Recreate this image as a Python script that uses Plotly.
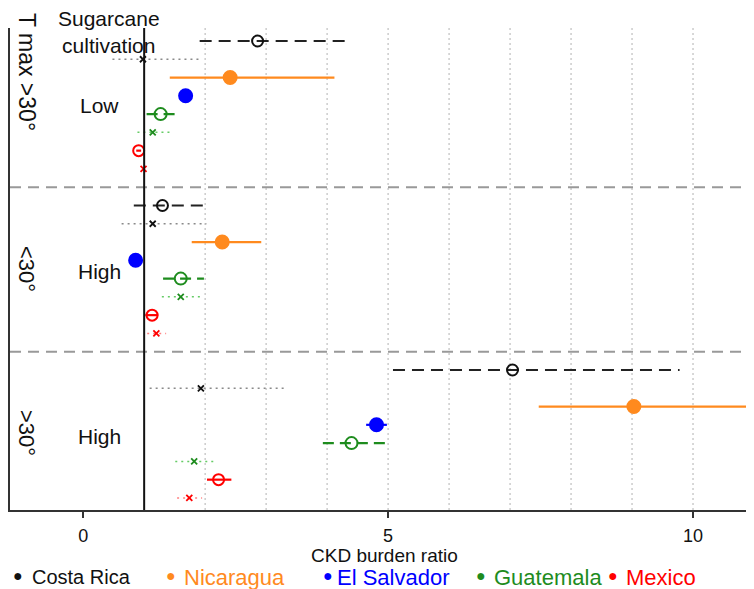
import plotly.graph_objects as go

# ---------------- data ----------------
panels = ["Low", "High", "High"]          # sugarcane cultivation level per panel
temps = ["T max >30°", "<30°", ">30°"]    # temperature label per panel
countries = ["Costa Rica", "Nicaragua", "El Salvador", "Guatemala", "Mexico"]

cr_o_est = [2.86, 1.30, 7.04]
cr_o_lo = [1.91, 0.83, 5.08]
cr_o_hi = [4.34, 2.04, 9.78]

cr_x_est = [0.98, 1.14, 1.93]
cr_x_lo = [0.48, 0.63, 1.09]
cr_x_hi = [1.94, 2.02, 3.34]

ni_est = [2.41, 2.28, 9.03]
ni_lo = [1.42, 1.78, 7.47]
ni_hi = [4.12, 2.92, 10.93]

sv_est = [1.68, 0.86, 4.81]
sv_lo = [1.65, 0.84, 4.64]
sv_hi = [1.71, 0.88, 4.98]

gt_o_est = [1.27, 1.60, 4.40]
gt_o_lo = [1.04, 1.31, 3.93]
gt_o_hi = [1.50, 1.98, 4.96]

gt_x_est = [1.14, 1.60, 1.82]
gt_x_lo = [0.89, 1.29, 1.51]
gt_x_hi = [1.45, 1.93, 2.16]

mx_o_est = [0.91, 1.13, 2.22]
mx_o_lo = [0.87, 1.02, 2.03]
mx_o_hi = [0.95, 1.23, 2.43]

mx_x_est = [0.99, 1.20, 1.74]
mx_x_lo = [0.97, 1.05, 1.54]
mx_x_hi = [1.01, 1.36, 1.95]

grid_x = [2, 3, 4, 5, 6, 7, 8, 9, 10]
ref_x = 1
x_ticks = [0, 5, 10]

# ---------------- layout helpers ----------------
W, H = 754, 589
OFF = 8                      # page body margin of the html page
L, R, T, B = 2, 8, 20, 87
PW, PH = W - L - R, H - T - B
ROWS_PER_PANEL = 9
FONT = "Liberation Sans, Arial, sans-serif"


def px(sx):
    return (sx - OFF - L) / PW


def py(sy):
    return (H - B - (sy - OFF)) / PH


def ypos(row):
    return [p * ROWS_PER_PANEL + row for p in range(3)]


fig = go.Figure()

series = [
    # est, lo, hi, row, line colour, dash, width, marker symbol, marker colour, size
    (cr_o_est, cr_o_lo, cr_o_hi, 0, "#222222", "12px,7px", 2.2, "circle-open", "#111111", 11),
    (cr_x_est, cr_x_lo, cr_x_hi, 1, "#8a8a8a", "2px,4px", 1.5, "x-thin-open", "#111111", 6),
    (ni_est, ni_lo, ni_hi, 2, "#FF8A1E", "solid", 2.2, "circle", "#FF8A1E", 13),
    (sv_est, sv_lo, sv_hi, 3, "#0000FF", "solid", 2.2, "circle", "#0000FF", 13),
    (gt_o_est, gt_o_lo, gt_o_hi, 4, "#1E8C1E", "11px,6px", 2.2, "circle-open", "#1E8C1E", 12),
    (gt_x_est, gt_x_lo, gt_x_hi, 5, "#66CC66", "2px,4px", 1.5, "x-thin-open", "#1E8C1E", 6),
    (mx_o_est, mx_o_lo, mx_o_hi, 6, "#FF0000", "solid", 2.2, "circle-open", "#FF0000", 11),
    (mx_x_est, mx_x_lo, mx_x_hi, 7, "#FF8080", "2px,4px", 1.5, "x-thin-open", "#FF0000", 6),
]

# background grid
for gx in grid_x:
    fig.add_shape(type="line", xref="x", yref="paper", x0=gx, x1=gx, y0=0, y1=1,
                  line=dict(color="#c4c4c4", width=1.3, dash="2px,3px"), layer="below")

# panel separators
for p in (1, 2):
    yy = p * ROWS_PER_PANEL - 1
    fig.add_shape(type="line", xref="paper", yref="y", x0=0, x1=1, y0=yy, y1=yy,
                  line=dict(color="#999999", width=2, dash="11px,7px"))

# reference line
fig.add_shape(type="line", xref="x", yref="paper", x0=ref_x, x1=ref_x, y0=0, y1=1,
              line=dict(color="#111111", width=2))

for est, lo, hi, row, lc, dash, lw, sym, mc, ms in series:
    ys = ypos(row)
    lx, ly = [], []
    for a, b, yv in zip(lo, hi, ys):
        lx += [a, b, None]
        ly += [yv, yv, None]
    fig.add_trace(go.Scatter(x=lx, y=ly, mode="lines", showlegend=False,
                             line=dict(color=lc, width=lw, dash=dash), hoverinfo="skip"))
    mline = dict(color=mc, width=2 if "circle" in sym else 1.8)
    fig.add_trace(go.Scatter(x=est, y=ys, mode="markers", showlegend=False,
                             marker=dict(symbol=sym, size=ms, color=mc, line=mline)))

ann = []


def add_text(txt, sx, sy, size, color="#111111", xanchor="center", angle=0):
    ann.append(dict(x=px(sx), y=py(sy), xref="paper", yref="paper", text=txt,
                    showarrow=False, xanchor=xanchor, yanchor="middle", textangle=angle,
                    borderpad=0, font=dict(size=size, color=color, family=FONT)))


# Sugarcane header
add_text("Sugarcane<br>cultivation", 109, 32, 21)
# temperature labels (rotated)
for txt, cy, fs in zip(temps, [72, 269, 433], [23, 22, 22]):
    add_text(txt, 27, cy, fs, angle=90)
# sugarcane level labels
for txt, cy in zip(panels, [106, 271, 436]):
    add_text(txt, 99, cy, 21)
# legend as coloured bullets + text
leg_colors = ["#111111", "#FF8A1E", "#0000FF", "#1E8C1E", "#FF0000"]
bullet_x = [18, 171, 328, 481, 613]
text_x = [31, 183, 336, 493, 625]
leg_fs = [20, 22, 22, 22, 22]
for name, c, bx, tx, fs in zip(countries, leg_colors, bullet_x, text_x, leg_fs):
    add_text("●", bx, 575, 16, color=c)
    add_text(name, tx, 577, fs, color=c, xanchor="left")
# axis title
add_text("CKD burden ratio", 310, 555, 19, xanchor="left")

fig.update_layout(
    width=W, height=H,
    margin=dict(l=L, r=R, t=T, b=B),
    paper_bgcolor="white", plot_bgcolor="white",
    showlegend=False,
    annotations=ann,
    font=dict(family=FONT, color="#111111"),
    xaxis=dict(range=[-1.2, 11.0], tickvals=x_ticks, ticks="outside", ticklen=6,
               tickwidth=1.5, tickcolor="#333333", ticklabelstandoff=2,
               showline=True, linecolor="#333333", linewidth=2, showgrid=False,
               zeroline=False, tickfont=dict(size=18, family=FONT, color="#111111")),
    yaxis=dict(range=[25.66, -0.71], showticklabels=False, ticks="", showgrid=False,
               zeroline=False, showline=True, linecolor="#333333", linewidth=2),
)

fig.write_html("out.html")
